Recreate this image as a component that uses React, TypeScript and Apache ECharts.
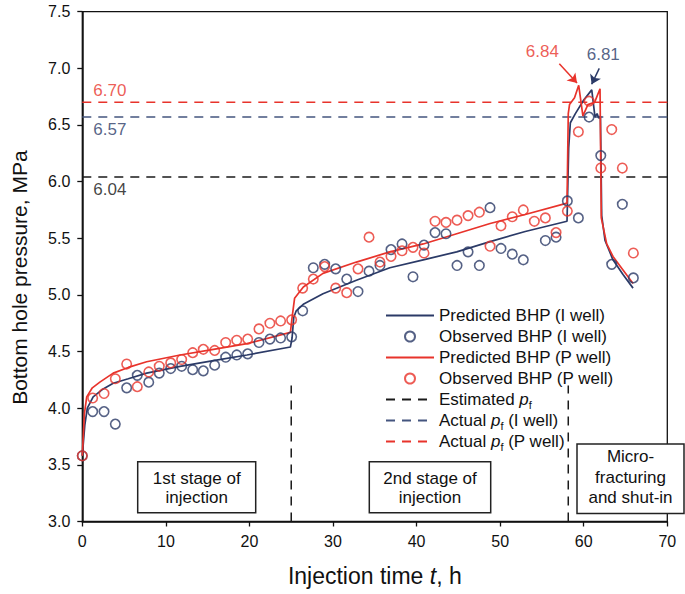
import React, { useEffect, useRef } from 'react';
import * as echarts from 'echarts';

const FONT = '"Liberation Sans", Arial, Helvetica, sans-serif';
const NAVY = '#2b3a67';
const RED = '#e8332b';
const NAVY_DASH = '#44557f';
const BLACK = '#1a1a1a';

// Observation times (h), shared by both wells
const obsTime = [0, 1.24, 2.6, 3.95, 5.31, 6.58, 7.95, 9.21, 10.58, 11.89, 13.21, 14.48, 15.84, 17.16, 18.48, 19.79, 21.14, 22.45, 23.73, 25.05, 26.37, 27.64, 29.0, 30.32, 31.64, 32.99, 34.31, 35.62, 36.94, 38.26, 39.57, 40.89, 42.21, 43.52, 44.84, 46.16, 47.51, 48.79, 50.1, 51.45, 52.77, 54.09, 55.41, 56.69, 58.04, 59.36, 60.64, 62.04, 63.35, 64.62, 65.94];
const obsI = [3.58, 3.97, 3.97, 3.86, 4.18, 4.29, 4.23, 4.31, 4.35, 4.37, 4.34, 4.33, 4.38, 4.45, 4.47, 4.48, 4.58, 4.61, 4.62, 4.63, 4.86, 5.24, 5.27, 5.23, 5.14, 5.03, 5.21, 5.26, 5.4, 5.45, 5.16, 5.44, 5.55, 5.54, 5.26, 5.38, 5.26, 5.77, 5.41, 5.36, 5.31, null, 5.48, 5.51, 5.83, 5.68, 6.57, 6.23, 5.27, 5.8, 5.15];
const obsP = [3.58, 4.09, 4.13, 4.26, 4.39, 4.19, 4.32, 4.37, 4.4, 4.43, 4.49, 4.52, 4.51, 4.58, 4.6, 4.61, 4.7, 4.75, 4.77, 4.78, 5.06, 5.14, 5.25, 5.06, 5.02, 5.23, 5.51, 5.29, 5.34, 5.39, 5.42, 5.37, 5.65, 5.64, 5.66, 5.7, 5.73, 5.43, 5.61, 5.69, 5.75, 5.65, 5.68, 5.55, 5.74, 6.44, 6.71, 6.12, 6.46, 6.12, 5.37];

// Predicted BHP curves
const predITime = [0, 0.3, 0.6, 1.3, 2.5, 3.7, 5.5, 7.7, 11.7, 15.7, 19.7, 24.9, 25.1, 25.3, 25.6, 26.5, 28.8, 32.8, 36.8, 40.8, 44.8, 48.8, 53.0, 58.0, 58.2, 58.4, 59.0, 60.0, 60.96, 61.35, 61.6, 61.8, 62.0, 62.15, 62.55, 63.5, 64.7, 65.9];
const predIValue = [3.58, 3.85, 4.0, 4.1, 4.17, 4.22, 4.26, 4.31, 4.37, 4.42, 4.47, 4.54, 4.62, 4.8, 4.86, 4.92, 5.01, 5.13, 5.24, 5.31, 5.38, 5.47, 5.56, 5.65, 6.3, 6.52, 6.6, 6.72, 6.81, 6.57, 6.6, 6.56, 6.58, 5.7, 5.48, 5.31, 5.18, 5.06];
const predPTime = [0, 0.25, 0.53, 1.2, 2.1, 3.7, 5.5, 7.7, 11.7, 15.7, 19.7, 24.9, 25.1, 25.4, 26.45, 28.8, 32.8, 36.8, 40.8, 44.8, 48.8, 53.0, 58.0, 58.15, 58.3, 58.9, 59.4, 59.9, 60.5, 61.3, 61.95, 62.1, 62.75, 63.5, 64.7, 65.9];
const predPValue = [3.58, 3.95, 4.1, 4.18, 4.23, 4.31, 4.36, 4.41, 4.47, 4.52, 4.57, 4.67, 4.8, 4.97, 5.07, 5.19, 5.29, 5.38, 5.45, 5.54, 5.63, 5.71, 5.81, 6.6, 6.68, 6.74, 6.85, 6.58, 6.68, 6.7, 6.82, 5.68, 5.45, 5.34, 5.22, 5.1];

// Reference pressures (MPa)
const estimatedPf = 6.04;
const actualPfI = 6.57;
const actualPfP = 6.7;
const peakP = 6.84;
const peakI = 6.81;
const stageBoundaries = [25, 58.15];
const stageLineTop = 4.2;
const xTicks = { min: 0, max: 70, interval: 10 };
const yTicks = { min: 3, max: 7.5, interval: 0.5 };

const names = {
  predI: 'Predicted BHP (I well)',
  obsI: 'Observed BHP (I well)',
  predP: 'Predicted BHP (P well)',
  obsP: 'Observed BHP (P well)',
  est: 'Estimated pf',
  actI: 'Actual pf (I well)',
  actP: 'Actual pf (P well)',
};

const zip = (xs: number[], ys: (number | null)[]) =>
  xs.map((x, i) => [x, ys[i]]).filter((d) => d[1] !== null);

export default function App() {
  const ref = useRef<HTMLDivElement>(null);
  useEffect(() => {
    document.body.style.margin = '0';
    const chart = echarts.init(ref.current!, undefined, { renderer: 'svg' });
    const dashed = [9, 7];
    const hLine = (name: string, v: number, color: string) => ({
      name,
      type: 'line',
      data: [[xTicks.min, v], [xTicks.max, v]],
      symbol: 'none',
      silent: true,
      z: 1,
      lineStyle: { color, width: 1.5, type: dashed },
      itemStyle: { color },
    });
    const rich = {
      i: { fontStyle: 'italic', fontSize: 17, fontFamily: FONT, lineHeight: 21, color: '#111' },
      s: { fontSize: 11, fontFamily: FONT, lineHeight: 12, verticalAlign: 'bottom', color: '#111' },
    };
    const hiddenSymbol = { color: 'rgba(0,0,0,0)', borderColor: 'rgba(0,0,0,0)', borderWidth: 0, opacity: 0 };
    const lineLegend = (name: string) => ({ name, itemStyle: hiddenSymbol });
    const option: any = {
      animation: false,
      textStyle: { fontFamily: FONT },
      grid: {
        left: 82.3,
        right: 17.7,
        top: 11.7,
        bottom: 72.5,
        show: true,
        borderColor: '#111',
        borderWidth: 1.3,
      },
      xAxis: {
        type: 'value',
        min: xTicks.min,
        max: xTicks.max,
        interval: xTicks.interval,
        name: '{a|Injection time }{i|t}{a|, h}',
        nameLocation: 'middle',
        nameGap: 43,
        nameTextStyle: {
          rich: {
            a: { fontSize: 23, fontFamily: FONT, color: '#111' },
            i: { fontSize: 23, fontFamily: FONT, fontStyle: 'italic', color: '#111' },
          },
        },
        axisLine: { lineStyle: { color: '#111', width: 1.5 } },
        axisTick: { inside: false, length: 5, lineStyle: { color: '#111', width: 1.3 } },
        axisLabel: { fontSize: 16, color: '#111', margin: 12, fontFamily: FONT },
        splitLine: { show: false },
      },
      yAxis: {
        type: 'value',
        min: yTicks.min,
        max: yTicks.max,
        interval: yTicks.interval,
        name: 'Bottom hole pressure, MPa',
        nameLocation: 'middle',
        nameGap: 52,
        nameTextStyle: { fontSize: 21, color: '#111', fontFamily: FONT, padding: [0, 22, 0, 0] },
        axisLine: { lineStyle: { color: '#111', width: 1.5 } },
        axisTick: { inside: false, length: 5, lineStyle: { color: '#111', width: 1.3 } },
        axisLabel: { fontSize: 16, color: '#111', margin: 12, fontFamily: FONT, formatter: (v: number) => v.toFixed(1) },
        splitLine: { show: false },
      },
      legend: {
        data: [
          lineLegend(names.predI),
          names.obsI,
          lineLegend(names.predP),
          names.obsP,
          lineLegend(names.est),
          lineLegend(names.actI),
          lineLegend(names.actP),
        ],
        orient: 'vertical',
        left: 385,
        top: 305,
        padding: 0,
        itemWidth: 48,
        itemHeight: 10,
        itemGap: 0,
        selectedMode: false,
        textStyle: { fontSize: 17, lineHeight: 21, color: '#111', fontFamily: FONT, rich },
        formatter: (n: string) => n.replace('pf', '{i|p}{s|f}'),
      },
      graphic: [
        { type: 'rect', z: 100, shape: { x: 137.7, y: 461.7, width: 118, height: 51 }, style: { fill: '#fff', stroke: '#222', lineWidth: 1.5 } },
        { type: 'text', z: 101, x: 196.7, y: 488, style: { text: '1st stage of\ninjection', align: 'center', verticalAlign: 'middle', font: `17px ${FONT}`, lineHeight: 19, fill: '#111' } },
        { type: 'rect', z: 100, shape: { x: 369.3, y: 461.7, width: 121.4, height: 51 }, style: { fill: '#fff', stroke: '#222', lineWidth: 1.5 } },
        { type: 'text', z: 101, x: 430, y: 488, style: { text: '2nd stage of\ninjection', align: 'center', verticalAlign: 'middle', font: `17px ${FONT}`, lineHeight: 19, fill: '#111' } },
        { type: 'rect', z: 100, shape: { x: 577, y: 444, width: 107, height: 69.5 }, style: { fill: '#fff', stroke: '#222', lineWidth: 1.5 } },
        { type: 'text', z: 101, x: 630.5, y: 477, style: { text: 'Micro-\nfracturing\nand shut-in', align: 'center', verticalAlign: 'middle', font: `17px ${FONT}`, lineHeight: 20.5, fill: '#111' } },
      ],
      series: [
        {
          name: names.predI,
          type: 'line',
          data: zip(predITime, predIValue),
          symbol: 'none',
          z: 3,
          lineStyle: { color: NAVY, width: 1.7 },
          itemStyle: { color: NAVY },
          markLine: {
            silent: true,
            symbol: ['none', 'arrow'],
            symbolSize: 9,
            label: { show: false },
            lineStyle: { color: NAVY, width: 1.5, type: 'solid' },
            data: [[{ coord: [61.86, 7.0] }, { coord: [60.95, 6.86] }]],
          },
        },
        {
          name: names.obsI,
          type: 'scatter',
          data: zip(obsTime, obsI),
          symbol: 'circle',
          symbolSize: 9.5,
          z: 4,
          itemStyle: { color: 'rgba(0,0,0,0)', borderColor: NAVY, borderWidth: 1.6 },
        },
        {
          name: names.predP,
          type: 'line',
          data: zip(predPTime, predPValue),
          symbol: 'none',
          z: 3,
          lineStyle: { color: RED, width: 1.7 },
          itemStyle: { color: RED },
          markLine: {
            silent: true,
            symbol: ['none', 'arrow'],
            symbolSize: 9,
            label: { show: false },
            lineStyle: { color: RED, width: 1.5, type: 'solid' },
            data: [[{ coord: [57.08, 7.04] }, { coord: [59.2, 6.87] }]],
          },
        },
        {
          name: names.obsP,
          type: 'scatter',
          data: zip(obsTime, obsP),
          symbol: 'circle',
          symbolSize: 9.5,
          z: 5,
          itemStyle: { color: 'rgba(0,0,0,0)', borderColor: RED, borderWidth: 1.6 },
        },
        hLine(names.est, estimatedPf, BLACK),
        hLine(names.actI, actualPfI, NAVY_DASH),
        hLine(names.actP, actualPfP, RED),
        ...stageBoundaries.map((x) => ({
          name: 'stage boundary',
          type: 'line',
          data: [[x, yTicks.min], [x, stageLineTop]],
          symbol: 'none',
          silent: true,
          z: 1,
          lineStyle: { color: BLACK, width: 1.5, type: dashed },
        })),
        {
          name: 'labels',
          type: 'scatter',
          silent: true,
          symbolSize: 1,
          z: 6,
          itemStyle: { color: 'rgba(0,0,0,0)' },
          label: { show: true, formatter: '{b}', fontSize: 17, fontFamily: FONT, distance: 3 },
          data: [
            { name: actualPfP.toFixed(2), value: [3.3, actualPfP], label: { position: 'top', color: RED } },
            { name: actualPfI.toFixed(2), value: [3.3, actualPfI], label: { position: 'bottom', color: NAVY } },
            { name: estimatedPf.toFixed(2), value: [3.3, estimatedPf], label: { position: 'bottom', color: '#111' } },
            { name: peakP.toFixed(2), value: [55.05, 7.145], label: { position: 'inside', color: RED } },
            { name: peakI.toFixed(2), value: [62.34, 7.125], label: { position: 'inside', color: NAVY } },
          ],
        },
      ],
    };
    chart.setOption(option);
    return () => chart.dispose();
  }, []);
  return <div ref={ref} style={{ width: 685, height: 594 }} />;
}
